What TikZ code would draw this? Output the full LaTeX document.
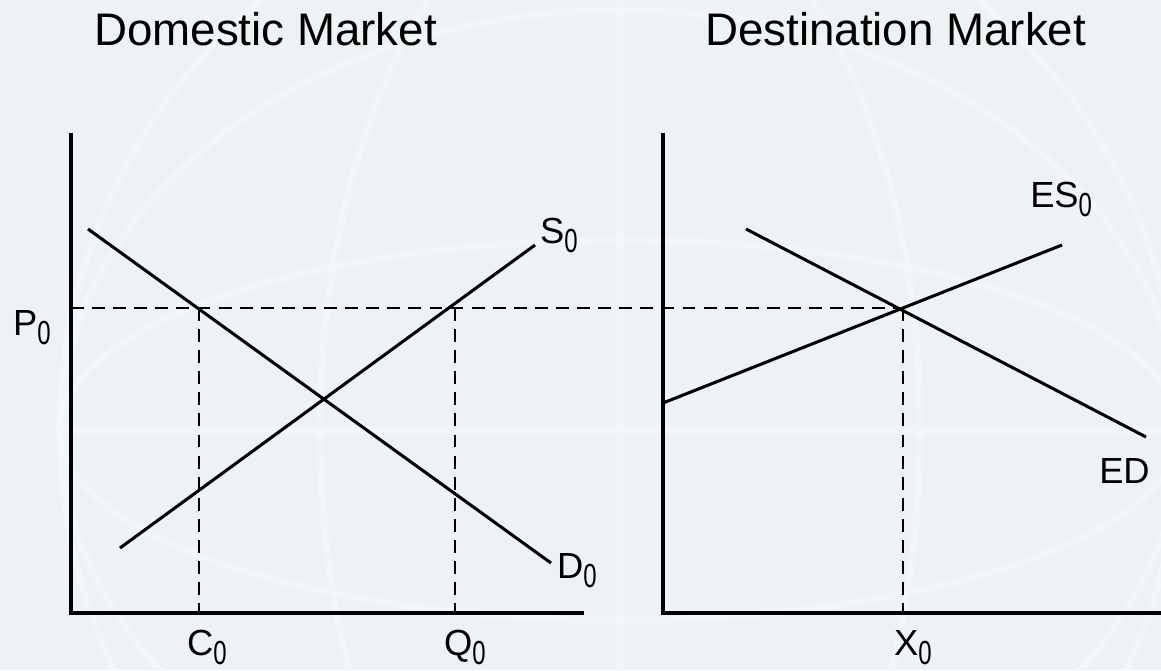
\documentclass[tikz,border=0pt]{standalone}
\usepackage{fontspec}
\setmainfont{Liberation Sans}
\usepackage{graphicx}
\usetikzlibrary{positioning}
\definecolor{slidebg}{RGB}{237,242,245}
\definecolor{globeline}{RGB}{246,249,251}

\newcommand{\zerosub}[1]{\raisebox{-0.25em}{\scalebox{0.66}[0.92]{#1}}}

\begin{document}
\begin{tikzpicture}[x=0.03cm, y=-0.03cm,
    axis/.style={line width=3pt},
    curve/.style={line width=2.6pt},
    guide/.style={line width=2.3pt, dash pattern=on 11pt off 7pt},
    title/.style={font=\fontsize{39}{47}\selectfont, anchor=base west, inner sep=0pt},
    lbl/.style={font=\fontsize{31}{37}\selectfont, anchor=base west, inner sep=0pt}]
  \useasboundingbox (0,0) rectangle (1161,670);
  % faint globe behind the slide
  \fill[slidebg] (0,0) rectangle (1161,670);
  \begin{scope}[globeline, line width=6pt, opacity=0.6]
    \draw (620,430) circle (560);
    \draw (620,430) ellipse (560 and 190);
    \draw (620,430) ellipse (560 and 420);
    \draw (620,430) ellipse (300 and 560);
    \draw (620,-130) -- (620,990);
    \draw (60,430) -- (1180,430);
  \end{scope}

  % axes
  \coordinate (Ltop) at (71,133);
  \coordinate (Lo) at (71,613);
  \coordinate (Lend) at (584,613);
  \coordinate (Rtop) at (663,133);
  \coordinate (Ro) at (663,613);
  \coordinate (Rend) at (1161,613);
  \draw[axis] (Ltop) -- (Lo) -- (Lend);
  \draw[axis] (Rtop) -- (Ro) -- (Rend);

  % domestic supply and demand
  \coordinate (d0a) at (88,229);
  \coordinate (d0b) at (551,563);
  \coordinate (s0a) at (120,548);
  \coordinate (s0b) at (535,245);
  \draw[curve] (d0a) -- (d0b);
  \draw[curve] (s0a) -- (s0b);

  % excess supply and demand
  \coordinate (esa) at (663,403);
  \coordinate (esb) at (1062,245);
  \coordinate (eda) at (746,229);
  \coordinate (edb) at (1146,437);
  \draw[curve] (esa) -- (esb);
  \draw[curve] (eda) -- (edb);

  % price line and quantities
  \coordinate (p0) at (71,308);
  \coordinate (eq) at (903,308);
  \coordinate (c0) at (199,613);
  \coordinate (q0) at (455,613);
  \coordinate (x0) at (903,613);
  \draw[guide] (p0) -- (eq);
  \draw[guide] (c0 |- p0) -- (c0);
  \draw[guide] (q0 |- p0) -- (q0);
  \draw[guide] (eq) -- (x0);

  % labels
  \node[title] (tDom) at (94,45) {Domestic Market};
  \node[title] (tDest) at (705,45) {Destination Market};
  \node[lbl] (lP) at (13,335) {P\zerosub{0}};
  \node[lbl] (lS) at (540,243) {S\zerosub{0}};
  \node[lbl] (lD) at (557,578) {D\zerosub{0}};
  \node[lbl] (lES) at (1030,207) {ES\zerosub{0}};
  \node[lbl] (lED) at (1099,483) {ED};
  \node[lbl] (lC) at (187,655) {C\zerosub{0}};
  \node[lbl] (lQ) at (444,655) {Q\zerosub{0}};
  \node[lbl] (lX) at (894,655) {X\zerosub{0}};
\end{tikzpicture}
\end{document}
